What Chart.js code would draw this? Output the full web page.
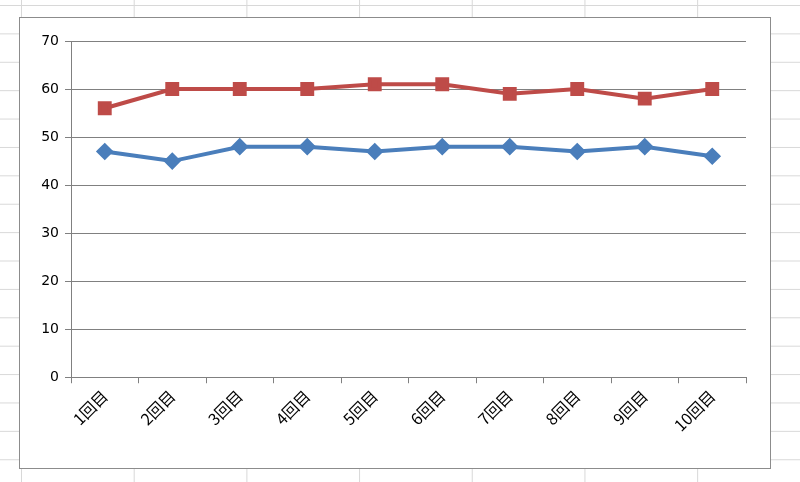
<!DOCTYPE html>
<html>
<head>
<meta charset="utf-8">
<script src="https://cdn.jsdelivr.net/npm/chart.js@4"></script>
<style>
  body {
    margin: 0;
    width: 800px;
    height: 482px;
    background-color: #fff;
    background-image:
      linear-gradient(to right, #d8d8d8 1px, transparent 1px),
      linear-gradient(to bottom, #d8d8d8 1px, transparent 1px);
    background-size: 112.7px 28.4px;
    background-position: 21px 5px;
    overflow: hidden;
  }
  #box {
    position: absolute;
    left: 19px;
    top: 17px;
    width: 750px;
    height: 450px;
    background: #fff;
    border: 1px solid #8c8c8c;
  }
</style>
</head>
<body>
<div id="box"><canvas id="chart" width="750" height="450"></canvas></div>
<script>
// ================= DATA =================
const categories = ["1回目", "2回目", "3回目", "4回目", "5回目", "6回目", "7回目", "8回目", "9回目", "10回目"];
const seriesBlue = [47, 45, 48, 48, 47, 48, 48, 47, 48, 46];
const seriesRed = [56, 60, 60, 60, 61, 61, 59, 60, 58, 60];

// ================= CHART =================
const ctx = document.getElementById("chart").getContext("2d");

new Chart(ctx, {
  type: "line",
  data: {
    labels: categories,
    datasets: [
      {
        data: seriesBlue,
        borderColor: "#4a7ebb",
        backgroundColor: "#4a7ebb",
        borderWidth: 4,
        pointStyle: "rectRot",
        pointRadius: 6,
        tension: 0
      },
      {
        data: seriesRed,
        borderColor: "#be4b48",
        backgroundColor: "#be4b48",
        borderWidth: 4,
        pointStyle: "rect",
        pointRadius: 7,
        tension: 0
      }
    ]
  },
  options: {
    responsive: false,
    animation: false,
    layout: { padding: { top: 23, right: 24, bottom: 30, left: 0 } },
    plugins: { legend: { display: false }, tooltip: { enabled: false } },
    scales: {
      x: {
        offset: true,
        grid: { offset: true, drawOnChartArea: false, color: "#808080", tickLength: 6 },
        border: { color: "#808080", width: 1 },
        ticks: {
          maxRotation: 45,
          minRotation: 45,
          color: "#000",
          font: { family: "'Noto Sans CJK JP', sans-serif", size: 16 }
        }
      },
      y: {
        min: 0,
        max: 70,
        afterFit: axis => { axis.width = 51; },
        grid: { color: "#808080", tickLength: 6 },
        border: { color: "#808080", width: 1 },
        ticks: {
          stepSize: 10,
          color: "#000",
          padding: 6,
          font: { family: "'DejaVu Sans', sans-serif", size: 14 }
        }
      }
    }
  }
});
</script>
</body>
</html>
